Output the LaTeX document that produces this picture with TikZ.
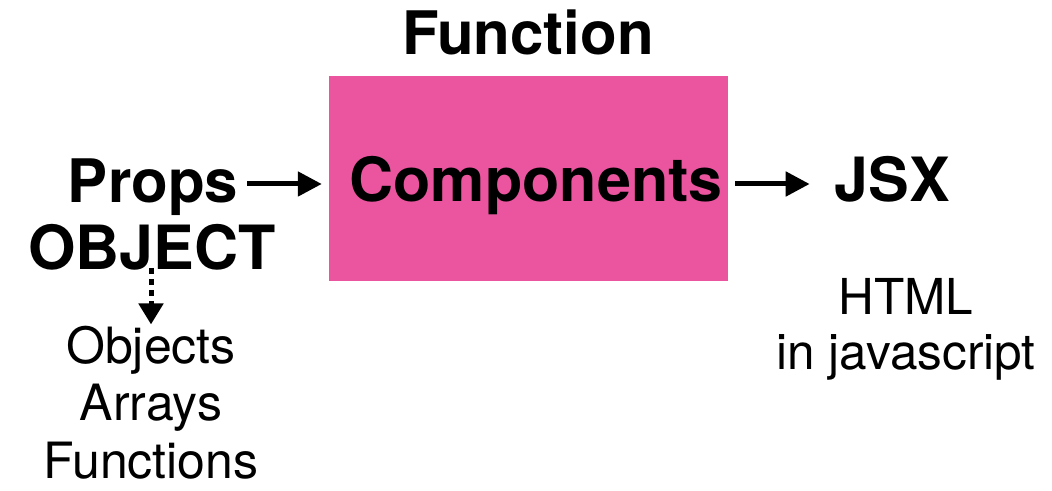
\documentclass[tikz,border=0pt]{standalone}
\usepackage{fontspec}
\setmainfont{TeX Gyre Heros}
\usetikzlibrary{arrows.meta}
\definecolor{compink}{HTML}{EB559F}

\tikzset{big/.style={inner sep=0, anchor=base, font=\fontsize{60}{72}\selectfont\bfseries},
         note/.style={inner sep=0, anchor=base, align=center, font=\fontsize{50}{57.5}\selectfont},
         arr/.style={line width=5pt, -{Triangle[length=24pt,width=24pt]}}}

\begin{document}
\begin{tikzpicture}[x=1pt, y=1pt]
\useasboundingbox (0,0) rectangle (1052,490);
\node[fill=compink, minimum width=399pt, minimum height=205pt, inner sep=0] (comp) at (528.5,311.5) {};
\node[big] (func) at (528,435) {Function};
\node[big, font=\fontsize{61}{72}\selectfont\bfseries] (complabel) at (536,288) {Components};
\node[big] (props) at (153,287) {Props};
\node[big, font=\fontsize{61}{72}\selectfont\bfseries] (object) at (152,220) {OBJECT};
\node[big, font=\fontsize{61}{72}\selectfont\bfseries] (jsx) at (892.5,288) {JSX};
\node[note] (types) at (151,12) {Objects\\Arrays\\Functions};
\node[note, font=\fontsize{49.5}{55}\selectfont] (html) at (906,120) {HTML\\in javascript};
% connectors
\draw[arr] ([xshift=9pt, yshift=-5.5pt]props.east |- comp.west) -- ([xshift=-7pt, yshift=-5.5pt]comp.west);
\draw[arr] ([xshift=7pt, yshift=-5.5pt]comp.east) -- ([xshift=-25pt, yshift=-5.5pt]jsx.west |- comp.east);
\draw[line width=5pt, dash pattern=on 6pt off 5pt, -{Triangle[length=21pt,width=24pt]}] ([yshift=3pt]object.south -| types.north) -- ([yshift=1pt]types.north);
\end{tikzpicture}
\end{document}
